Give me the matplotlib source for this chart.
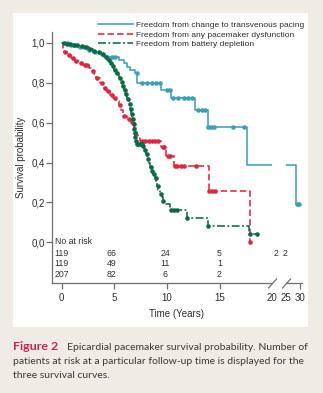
import numpy as np
import matplotlib
matplotlib.use("Agg")
import matplotlib.pyplot as plt
from matplotlib.patches import Rectangle
from matplotlib.path import Path

# Kaplan-Meier step data: event times (years) and survival after each step
teal_t = [0, 0.8, 1.5, 2.4, 3.0, 3.5, 4.0, 4.2, 5.4, 5.9, 6.2, 6.5, 7.0, 7.2,
          9.45, 10.4, 12.7, 13.9, 17.6, 28.4]
teal_s = [1.0, 0.99, 0.98, 0.965, 0.955, 0.945, 0.937, 0.93, 0.914, 0.897,
          0.88, 0.864, 0.848, 0.797, 0.765, 0.722, 0.664, 0.58, 0.386, 0.192]
teal_cens = [0.5, 0.9, 1.2, 1.7, 2.1, 2.6, 3.2, 3.8, 4.3, 4.75, 5.07, 7.13,
             7.6, 8.08, 8.55, 9.0, 9.35, 9.98, 10.3, 10.6, 11.1, 11.6, 12.0,
             12.4, 13.0, 13.3, 13.6, 13.9, 14.2, 14.5, 16.25, 17.3, 28.8, 29.6]

red_t = [0, 0.1, 0.25, 0.5, 0.9, 1.3, 1.6, 2.0, 2.6, 2.8, 3.1, 3.3, 3.6, 3.9,
         4.2, 4.6, 4.9, 5.2, 5.4, 5.6, 5.8, 6.2, 6.6, 6.9, 7.1, 7.2, 7.3, 7.45,
         9.45, 9.9, 10.7, 14.0, 17.85]
red_s = [1.0, 0.975, 0.955, 0.94, 0.925, 0.91, 0.9, 0.89, 0.875, 0.86, 0.845,
         0.825, 0.8, 0.775, 0.758, 0.74, 0.724, 0.707, 0.69, 0.665, 0.632,
         0.616, 0.6, 0.575, 0.555, 0.54, 0.525, 0.51, 0.476, 0.434, 0.385,
         0.255, 0.0]
red_cens = [0.3, 0.7, 1.1, 1.4, 1.8, 2.2, 2.4, 3.0, 3.4, 3.8, 4.1, 4.4, 4.8,
            5.1, 5.5, 5.9, 6.4, 6.8, 7.6, 7.9, 8.3, 8.6, 8.9, 9.2, 9.6, 9.75,
            10.1, 10.3, 10.8, 11.0, 11.3, 11.6, 12.8, 14.0, 14.3, 14.6, 17.9]

green_t = [0, 0.4, 1.0, 1.6, 2.1, 2.6, 3.0, 3.4, 3.7, 4.0, 4.3, 4.55, 4.8, 5.0,
           5.2, 5.4, 5.6, 5.75, 5.9, 6.05, 6.2, 6.35, 6.5, 6.6, 6.7, 6.8, 6.85,
           6.9, 6.97, 7.05, 7.15, 7.7, 7.85, 8.0, 8.15, 8.3, 8.4, 8.55, 8.7,
           8.85, 9.0, 9.1, 9.2, 9.35, 9.5, 9.6, 9.7, 10.3, 11.9, 13.9, 17.8]
green_s = [1.0, 0.995, 0.99, 0.985, 0.978, 0.97, 0.962, 0.953, 0.943, 0.93,
           0.915, 0.9, 0.882, 0.865, 0.848, 0.825, 0.805, 0.785, 0.765, 0.745,
           0.72, 0.695, 0.67, 0.645, 0.62, 0.595, 0.57, 0.55, 0.53, 0.51, 0.495,
           0.485, 0.465, 0.445, 0.42, 0.4, 0.38, 0.36, 0.34, 0.32, 0.3, 0.28,
           0.26, 0.24, 0.225, 0.205, 0.19, 0.163, 0.12, 0.08, 0.04]
green_cens = [0.2, 0.5, 0.8, 1.2, 1.5, 1.9, 2.3, 2.7, 3.1, 3.5, 3.9, 4.2, 4.5,
              4.7, 4.9, 5.1, 5.3, 5.5, 5.7, 5.85, 6.0, 6.15, 6.3, 6.45, 6.55,
              6.65, 6.75, 6.83, 6.88, 6.93, 7.0, 7.1, 7.2, 7.3, 7.4, 7.5, 7.6,
              7.75, 7.9, 8.1, 8.25, 8.45, 8.6, 8.8, 8.95, 9.15, 9.4, 9.65,
              10.4, 10.7, 11.0, 11.95, 13.95, 17.85, 18.6]

labels = ["Freedom from change to transvenous pacing",
          "Freedom from any pacemaker dysfunction",
          "Freedom from battery depletion"]

# numbers at risk per curve at the tick times
risk_pos = [0, 4.75, 9.85, 15, 21.3, 24.7]
at_risk = [["119", "66", "24", "5", "2", "2"],
           ["119", "49", "11", "1"],
           ["207", "82", "6", "2"]]

TEAL = "#3aa1b4"
RED = "#e1253f"
GREEN = "#0b6a46"
AXC = "#6e6e6e"
TXT = "#2e2e2e"

BREAK_AT = 20
SQUEEZE = 0.265


def _fwd(t):
    t = np.asarray(t, dtype=float)
    return np.where(t <= BREAK_AT, t, BREAK_AT + (t - BREAK_AT) * SQUEEZE)


def _inv(u):
    u = np.asarray(u, dtype=float)
    return np.where(u <= BREAK_AT, u, BREAK_AT + (u - BREAK_AT) / SQUEEZE)


def km_curve(ax, t, s, cens, color, dashes, label):
    t = np.asarray(t)
    s = np.asarray(s)
    t_end = max(t[-1], max(cens))
    tt = np.append(t, t_end)
    ss = np.append(s, s[-1])
    line, = ax.step(tt, ss, where="post", color=color, lw=1.15, label=label,
                    zorder=2)
    if dashes:
        line.set_dashes(dashes)
    idx = np.searchsorted(t, cens, side="right") - 1
    ax.plot(cens, s[idx], "o", color=color, ms=3.3, mew=0, zorder=2.5)
    return line


fig = plt.figure(figsize=(3.23, 3.93), dpi=100, facecolor="#efece3")
plt.rcParams["font.family"] = ["Liberation Sans", "DejaVu Sans"]

W, H = 323.0, 393.0
# white panel behind the chart
fig.add_artist(Rectangle((12.7 / W, 66 / H), 295.3 / W, 314 / H,
                         transform=fig.transFigure, facecolor="white",
                         edgecolor="none", zorder=0))

ax = fig.add_axes([52 / W, 110.3 / H, 249.7 / W, 250.7 / H])
ax.set_facecolor("white")
ax.set_xscale("function", functions=(_fwd, _inv))
ax.set_xlim(-0.92, 30.6)
ax.set_ylim(-0.203, 1.055)

h1 = km_curve(ax, teal_t, teal_s, teal_cens, TEAL, None, labels[0])
h2 = km_curve(ax, red_t, red_s, red_cens, RED, (4, 2), labels[1])
h3 = km_curve(ax, green_t, green_s, green_cens, GREEN, (5, 1.5, 1.2, 1.5),
              labels[2])

# blank out the broken part of the time axis
ax.axvspan(BREAK_AT, 25, ymin=0.2, ymax=1.0, color="white", lw=0, zorder=3)

for side in ("top", "right", "bottom"):
    ax.spines[side].set_visible(False)
ax.spines["left"].set_color(AXC)
ax.spines["left"].set_linewidth(0.9)

# bottom axis line with break marks
xt = ax.get_xaxis_transform()
ax.plot([-0.92, BREAK_AT], [0, 0], color=AXC, lw=0.9, transform=xt,
        clip_on=False)
ax.plot([25, 30.6], [0, 0], color=AXC, lw=0.9, transform=xt, clip_on=False)
slash = Path([(-0.9, -1.0), (0.9, 1.0)])
ax.plot([BREAK_AT, 25], [0, 0], linestyle="none", marker=slash, ms=7.2,
        mec=AXC, mew=0.9, transform=xt, clip_on=False)

ax.set_yticks([0, 0.2, 0.4, 0.6, 0.8, 1.0])
ax.set_yticklabels(["0,0", "0,2", "0,4", "0,6", "0,8", "1,0"])
ax.set_xticks([0, 5, 10, 15, 20, 25, 30])
ax.set_xticklabels(["0", "5", "10", "15", "20", "25", "30"])
ax.tick_params(axis="both", labelsize=7, colors=AXC, labelcolor=TXT,
               length=4, width=0.9)
ax.tick_params(axis="y", pad=1)
ax.tick_params(axis="x", pad=3.5)
for tk in ax.xaxis.get_major_ticks()[4:6]:
    tk.tick1line.set_visible(False)

ax.set_ylabel("Survival probability", fontsize=7, color=TXT)
ax.yaxis.set_label_coords(-0.105, 0.5)
ax.set_xlabel("Time (Years)", fontsize=7, color=TXT)
ax.xaxis.set_label_coords(0.5, -0.105)

# numbers-at-risk table
ax.text(-0.64, 0.005, "No at risk", fontsize=6.3, color=TXT, ha="left",
        va="center", zorder=4)
row_y = [-0.055, -0.107, -0.162]
for y, row in zip(row_y, at_risk):
    for x, val in zip(risk_pos, row):
        ax.text(x, y, val, fontsize=6.3, color=TXT, ha="center", va="center",
                zorder=4)

fig.legend(handles=[h1, h2, h3], loc="upper left",
           bbox_to_anchor=(98 / W, 1 - 21.5 / H), frameon=False,
           fontsize=6.0, handlelength=4.2, handletextpad=0.4,
           labelspacing=0.18, borderpad=0, borderaxespad=0,
           labelcolor=TXT)

# figure caption
cap_font = ["Lato", "DejaVu Sans"]
fig.text(12.7 / W, 1 - 347 / H, "Figure 2", family=cap_font, weight="bold",
         fontsize=8.9, color="#c8234f", va="center")
fig.text(67 / W, 1 - 347 / H,
         "Epicardial pacemaker survival probability. Number of",
         family=cap_font, fontsize=7.5, color="#3a3a3a", va="center")
fig.text(12.7 / W, 1 - 361 / H,
         "patients at risk at a particular follow-up time is displayed for the",
         family=cap_font, fontsize=7.5, color="#3a3a3a", va="center")
fig.text(12.7 / W, 1 - 375 / H, "three survival curves.",
         family=cap_font, fontsize=7.5, color="#3a3a3a", va="center")

fig.savefig("out.png", dpi=100, facecolor=fig.get_facecolor())
